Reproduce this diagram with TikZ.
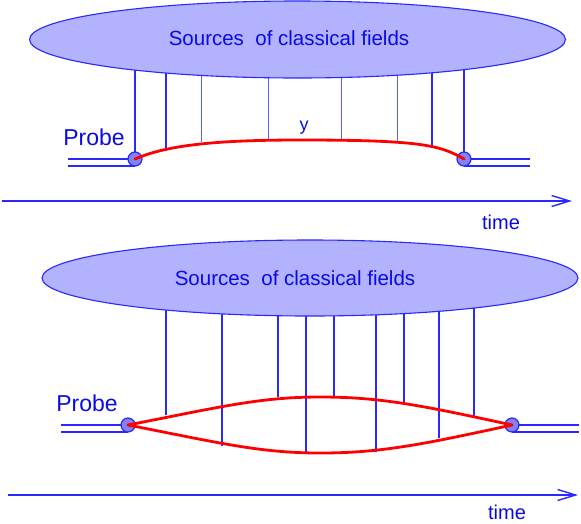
\documentclass[tikz,border=0pt]{standalone}
\usepackage{fontspec}
\setmainfont{Liberation Sans}
\usetikzlibrary{arrows.meta}
\definecolor{lineblue}{RGB}{40,40,255}
\definecolor{textblue}{RGB}{10,10,230}
\definecolor{cloudfill}{RGB}{178,178,255}
\definecolor{dotfill}{RGB}{130,130,240}
\definecolor{pathred}{RGB}{255,0,0}
\tikzset{
  field/.style={draw=lineblue, line width=1.1pt},
  fieldthin/.style={draw=lineblue!75, line width=0.8pt},
  source/.style={draw=lineblue, line width=1.1pt, fill=cloudfill},
  vertex/.style={circle, draw=lineblue, line width=1.2pt, fill=dotfill, minimum size=14pt, inner sep=0pt},
  probeline/.style={draw=lineblue, line width=1.4pt},
  worldline/.style={draw=pathred, line width=2.8pt, line cap=round},
  timeaxis/.style={draw=lineblue, line width=1.6pt, -{Straight Barb[length=18pt,width=11pt,line width=1.4pt]}},
  lbl/.style={text=textblue, inner sep=0pt, anchor=base},
}
\begin{document}
\begin{tikzpicture}[x=1pt,y=-1pt]
\useasboundingbox (0,0) rectangle (581,523);

% ---------------- top panel ----------------
\foreach \x/\y in {135/159,166/151,432/147,464/159}
  \draw[field] (\x,40) -- (\x,\y);
\foreach \x/\y in {201/142,268/140,341/140,397/142}
  \draw[fieldthin] (\x,40) -- (\x,\y);
\draw[source] (297.5,39.5) ellipse [x radius=268, y radius=38.5];
\node[lbl, font=\fontsize{20.5}{24}\selectfont] (srcA) at (289,45) {Sources\ \ of classical fields};

\coordinate (inAc) at (135,159);
\coordinate (outAc) at (464,159);
\coordinate (inAl) at (68,159);
\coordinate (inAb) at (68,166);
\coordinate (outAr) at (530,159);
\coordinate (outAb) at (530,166);
\draw[probeline] (inAl) -- (inAc);
\draw[probeline] (inAb) -- (inAc |- inAb);
\draw[probeline] (outAc) -- (outAr);
\draw[probeline] (outAc |- outAb) -- (outAb);
\node[vertex] (inA) at (inAc) {};
\node[vertex] (outA) at (outAc) {};
\draw[worldline] (inA.center) .. controls (165,146) and (210,140) .. (300,140)
  .. controls (420,140) and (440,145) .. (outA.center);
\node[lbl, font=\fontsize{23}{27}\selectfont] (probeA) at (94,145) {Probe};
\node[lbl, font=\fontsize{18}{21}\selectfont] (yA) at (304,130) {y};

\coordinate (tA0) at (2,201);
\coordinate (tA1) at (572,201);
\draw[timeaxis] (tA0) -- (tA1);
\node[lbl, font=\fontsize{20}{24}\selectfont] (timeA) at (501,229) {time};

% ---------------- bottom panel ----------------
\foreach \x/\y in {166/415,222/446,278/397,306/453,334/396,376/452,404/403,439/438,474/416}
  \draw[field] (\x,280) -- (\x,\y);
\draw[source] (310,278) ellipse [x radius=268, y radius=38];
\node[lbl, font=\fontsize{20.5}{24}\selectfont] (srcB) at (295,285) {Sources\ \ of classical fields};

\coordinate (inBc) at (128,425);
\coordinate (outBc) at (512,425);
\coordinate (inBl) at (61,425);
\coordinate (inBb) at (61,432);
\coordinate (outBr) at (579,425);
\coordinate (outBb) at (579,432);
\draw[probeline] (inBl) -- (inBc);
\draw[probeline] (inBb) -- (inBc |- inBb);
\draw[probeline] (outBc) -- (outBr);
\draw[probeline] (outBc |- outBb) -- (outBb);
\node[vertex] (inB) at (inBc) {};
\node[vertex] (outB) at (outBc) {};
\draw[worldline] (inB.center) .. controls (220,407) and (260,397) .. (320,397)
  .. controls (380,397) and (420,405) .. (outB.center);
\draw[worldline] (inB.center) .. controls (220,443) and (260,453) .. (320,453)
  .. controls (380,453) and (420,445) .. (outB.center);
\node[lbl, font=\fontsize{23}{27}\selectfont] (probeB) at (87,411) {Probe};

\coordinate (tB0) at (8,495);
\coordinate (tB1) at (578,495);
\draw[timeaxis] (tB0) -- (tB1);
\node[lbl, font=\fontsize{20}{24}\selectfont] (timeB) at (507,519) {time};
\end{tikzpicture}
\end{document}
